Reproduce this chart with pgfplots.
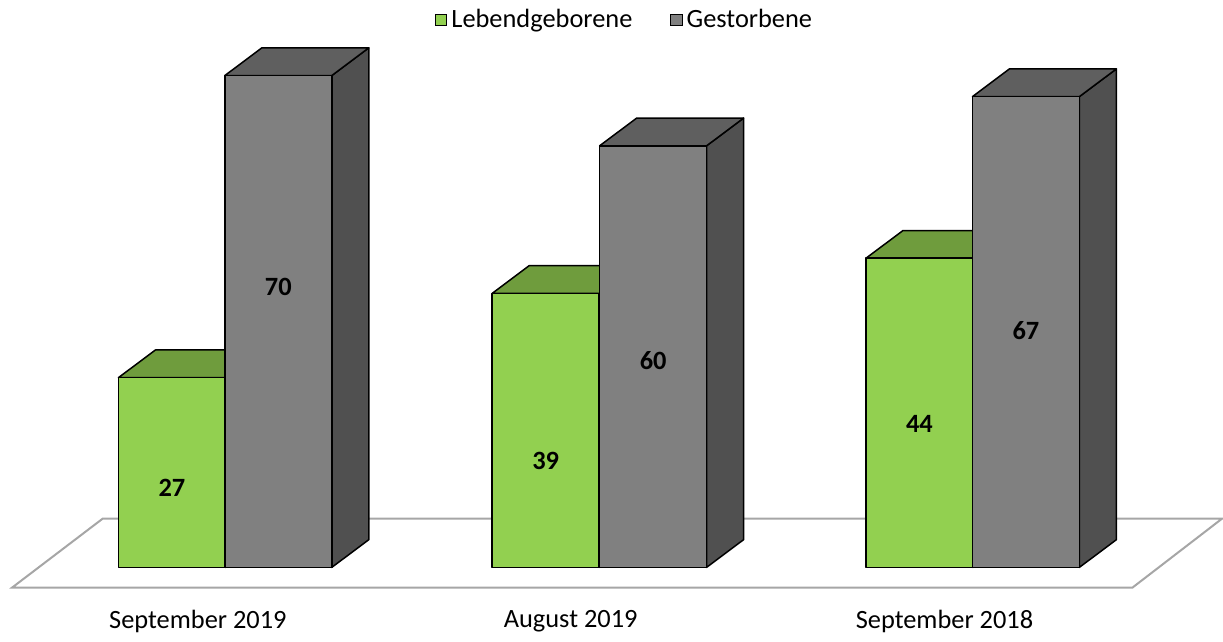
\documentclass[border=0pt]{standalone}
\usepackage{pgfplots}
\pgfplotsset{compat=1.18}
\usepackage{fontspec}
\setmainfont{Carlito}

\definecolor{gfront}{HTML}{92D050}
\definecolor{gtop}{HTML}{6F9C3D}
\definecolor{gside}{HTML}{5E8A30}
\definecolor{kfront}{HTML}{808080}
\definecolor{ktop}{HTML}{5F5F5F}
\definecolor{kside}{HTML}{505050}
\definecolor{floorline}{HTML}{A6A6A6}

% 3d bar: left x (px), value, front, top, side colour
\newcommand\tdbar[5]{%
  \pgfmathsetmacro\xr{#1+107}%
  \pgfmathsetmacro\xb{#1+37}%
  \pgfmathsetmacro\xbr{#1+144}%
  \pgfmathsetmacro\yb{#2+3.94}%
  \addplot[draw=black, fill=#5, line width=0.75pt, line join=round, forget plot]
    coordinates {(\xr,0) (\xbr,3.94) (\xbr,\yb) (\xr,#2)} -- cycle;
  \addplot[draw=black, fill=#4, line width=0.75pt, line join=round, forget plot]
    coordinates {(#1,#2) (\xr,#2) (\xbr,\yb) (\xb,\yb)} -- cycle;
  \addplot[draw=black, fill=#3, line width=0.75pt, line join=round, forget plot]
    coordinates {(#1,0) (\xr,0) (\xr,#2) (#1,#2)} -- cycle;
}

\begin{document}
\begin{tikzpicture}
\fontsize{13.2}{15}\selectfont
\begin{axis}[
  scale only axis,
  width=611.5pt, height=319.5pt,
  xmin=0, xmax=1223, ymin=-10.14, ymax=80.75,
  hide axis, clip=false,
  legend columns=2,
  legend style={at={(axis cs:626,77.9)}, anchor=center, draw=none, fill=none,
    font=\fontsize{13.2}{15}\selectfont,
    /tikz/every even column/.append style={column sep=17pt}},
  legend image code/.code={\draw[#1, line width=0.5pt] (0pt,-2.8pt) rectangle (5.6pt,2.8pt);},
]
\path (rel axis cs:0,0) rectangle (rel axis cs:1,1);
\addlegendimage{draw=black, fill=gfront}
\addlegendentry{Lebendgeborene}
\addlegendimage{draw=black, fill=kfront}
\addlegendentry{Gestorbene}

% floor
\addplot[draw=floorline, fill=white, line width=1pt, forget plot]
  coordinates {(12,-2.89) (1133,-2.89) (1222.7,6.93) (102.7,6.93)} -- cycle;

% September 2019
\tdbar{118.5}{27}{gfront}{gtop}{gside}
\tdbar{225}{70}{kfront}{ktop}{kside}
% August 2019
\tdbar{492.5}{39}{gfront}{gtop}{gside}
\tdbar{600}{60}{kfront}{ktop}{kside}
% September 2018
\tdbar{866.5}{44}{gfront}{gtop}{gside}
\tdbar{973}{67}{kfront}{ktop}{kside}

\begin{scope}[every node/.style={font=\fontsize{13.2}{15}\selectfont\bfseries}]
\node at (axis cs:172,11.3) {27};
\node at (axis cs:278.5,39.9) {70};
\node at (axis cs:546,15.2) {39};
\node at (axis cs:653.5,29.4) {60};
\node at (axis cs:920,20.4) {44};
\node at (axis cs:1026.5,33.7) {67};
\end{scope}

\node at (axis cs:198,-7.72) {September 2019};
\node at (axis cs:571,-7.72) {August 2019};
\node at (axis cs:945,-7.72) {September 2018};
\end{axis}
\end{tikzpicture}
\end{document}
